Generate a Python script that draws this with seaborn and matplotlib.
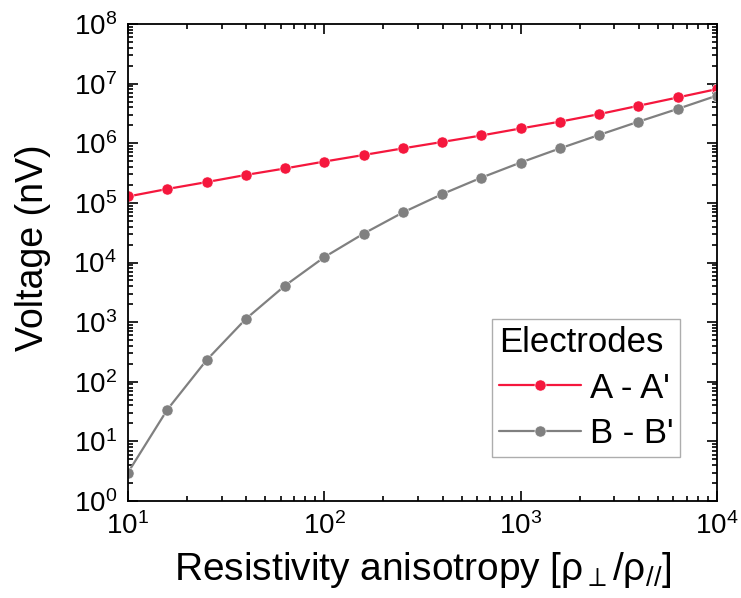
import numpy as np
import pandas as pd
import matplotlib
matplotlib.use("Agg")
import matplotlib.pyplot as plt
import seaborn as sns
from matplotlib.ticker import LogLocator, NullFormatter

# Data
anisotropy = [10.0, 15.85, 25.12, 39.81, 63.10, 100.0, 158.5, 251.2, 398.1, 631.0,
              1000.0, 1585.0, 2512.0, 3981.0, 6310.0, 10000.0]
v_aa = [1.28e5, 1.71e5, 2.23e5, 2.94e5, 3.78e5, 4.93e5, 6.35e5, 8.2e5, 1.05e6, 1.35e6,
        1.77e6, 2.3e6, 3.08e6, 4.25e6, 5.86e6, 8.1e6]
v_bb = [3.0, 34.0, 230.0, 1130.0, 4100.0, 12300.0, 30500.0, 69000.0, 1.4e5, 2.65e5,
        4.75e5, 8.2e5, 1.38e6, 2.3e6, 3.77e6, 6.3e6]
series_names = ["A - A'", "B - B'"]
colors = ["#F5173D", "#808080"]

df = pd.DataFrame({
    "x": anisotropy * 2,
    "v": v_aa + v_bb,
    "Electrodes": [series_names[0]] * len(anisotropy) + [series_names[1]] * len(anisotropy),
})

sns.set_style("ticks")
plt.rcParams["font.family"] = ["Liberation Sans", "DejaVu Sans"]
plt.rcParams["mathtext.fontset"] = "custom"
plt.rcParams["mathtext.rm"] = "Liberation Sans"
plt.rcParams["mathtext.it"] = "Liberation Sans:italic"
plt.rcParams["text.color"] = "black"
plt.rcParams["axes.labelcolor"] = "black"
plt.rcParams["xtick.color"] = "black"
plt.rcParams["ytick.color"] = "black"

fig = plt.figure(figsize=(7.41, 5.98), dpi=100)
ax = fig.add_axes([128 / 741, 1 - 501 / 598, 589 / 741, 477 / 598])

sns.lineplot(data=df, x="x", y="v", hue="Electrodes", palette=colors, marker="o",
             markersize=8, markeredgecolor="white", markeredgewidth=0.4,
             linewidth=1.6, ax=ax)

ax.set_xscale("log")
ax.set_yscale("log")
ax.set_xlim(10, 1e4)
ax.set_ylim(1, 1e8)

ax.yaxis.set_major_locator(LogLocator(base=10, numticks=20))
ax.yaxis.set_minor_locator(LogLocator(base=10, subs=np.arange(2, 10), numticks=20))
ax.yaxis.set_minor_formatter(NullFormatter())
ax.xaxis.set_minor_locator(LogLocator(base=10, subs=np.arange(2, 10), numticks=20))
ax.xaxis.set_minor_formatter(NullFormatter())

ax.tick_params(which="both", direction="in", top=True, right=True, width=1.2,
               colors="black", labelcolor="black")
ax.tick_params(which="major", length=7, labelsize=20, pad=8)
ax.tick_params(which="minor", length=3.5)
for s in ax.spines.values():
    s.set_linewidth(1.3)
    s.set_color("black")

ax.set_xlabel(r"Resistivity anisotropy [ρ$_{\perp}$/ρ$_{//}$]", fontsize=28, labelpad=7)
ax.set_ylabel("Voltage (nV)", fontsize=27)
ax.yaxis.set_label_coords(-0.131, 0.531)

leg = ax.legend(title="Electrodes", loc="lower right", bbox_to_anchor=(0.938, 0.093),
                borderaxespad=0, fontsize=25, title_fontsize=25, frameon=True,
                fancybox=False, edgecolor="#999999", handlelength=2.36,
                alignment="left", handletextpad=0.26, labelspacing=0.35, borderpad=0.2)
leg.get_frame().set_linewidth(1.0)

fig.savefig("out.png", dpi=100)
